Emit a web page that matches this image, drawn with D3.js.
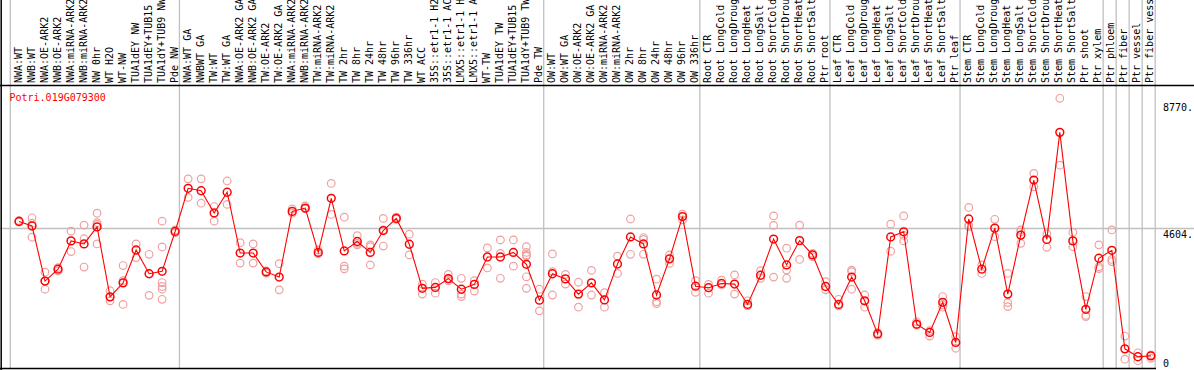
<!DOCTYPE html>
<html>
<head>
<meta charset="UTF-8">
<title>Potri.019G079300</title>
<script src="https://d3js.org/d3.v7.min.js"></script>
<style>
  body { margin: 0; background: #fff; }
  svg { display: block; }
  text { font-family: "DejaVu Sans Mono", monospace; font-size: 10px; }
</style>
</head>
<body>
<svg width="1194" height="370"></svg>
<script>
// sample names, left to right
const samples = [
  "NWA:WT", "NWB:WT", "NWA:OE-ARK2", "NWB:OE-ARK2", "NWA:miRNA-ARK2", "NWB:miRNA-ARK2",
  "NW 0hr", "WT H2O", "WT-NW", "TUA1dEY NW", "TUA1dEY+TUB15 NW", "TUA1dY+TUB9 NW", "Pde NW",
  "NWA:WT GA", "NWBWT GA", "TW:WT", "TW:WT GA", "NWA:OE-ARK2 GA", "NWB:OE-ARK2 GA",
  "TW:OE-ARK2", "TW:OE-ARK2 GA", "NWA:miRNA-ARK2 GA", "NWB:miRNA-ARK2 GA", "TW:miRNA-ARK2",
  "TW:miRNA-ARK2 GA", "TW 2hr", "TW 8hr", "TW 24hr", "TW 48hr", "TW 96hr", "TW 336hr",
  "WT ACC", "35S::etr1-1 H2O", "35S::etr1-1 ACC", "LMX5::etr1-1 H2O", "LMX5::etr1-1 ACC",
  "WT-TW", "TUA1dEY TW", "TUA1dEY+TUB15 TW", "TUA1dY+TUB9 TW", "Pde TW",
  "OW:WT", "OW:WT GA", "OW:OE-ARK2", "OW:OE-ARK2 GA", "OW:miRNA-ARK2", "OW:miRNA-ARK2 GA",
  "OW 2hr", "OW 8hr", "OW 24hr", "OW 48hr", "OW 96hr", "OW 336hr",
  "Root CTR", "Root LongCold", "Root LongDrought", "Root LongHeat", "Root LongSalt",
  "Root ShortCold", "Root ShortDrought", "Root ShortHeat", "Root ShortSalt", "Ptr root",
  "Leaf CTR", "Leaf LongCold", "Leaf LongDrought", "Leaf LongHeat", "Leaf LongSalt",
  "Leaf ShortCold", "Leaf ShortDrought", "Leaf ShortHeat", "Leaf ShortSalt", "Ptr leaf",
  "Stem CTR", "Stem LongCold", "Stem LongDrought", "Stem LongHeat", "Stem LongSalt",
  "Stem ShortCold", "Stem ShortDrought", "Stem ShortHeat", "Stem ShortSalt",
  "Ptr shoot", "Ptr xylem", "Ptr phloem", "Ptr fiber", "Ptr vessel", "Ptr fiber vessel"
];

// mean expression per sample
const means = [
  4820, 4670, 2860, 3250, 4180, 4080, 4640, 2340, 2800, 3880, 3100, 3180, 4490,
  5910, 5830, 5100, 5780, 3780, 3780, 3160, 2990, 5150, 5260, 3800, 5580, 3850,
  4160, 3800, 4520, 4920, 4070, 2620, 2650, 2940, 2590, 2750, 3650, 3650, 3800, 3410, 2230,
  3100, 2930, 2430, 2800, 2240, 3420, 4310, 4080, 2400, 3590, 4980, 2690,
  2640, 2780, 2760, 2090, 3050, 4240, 3390, 4190, 3720, 2680,
  2090, 2990, 2210, 1120, 4310, 4480, 1440, 1170, 2160, 840,
  4900, 3250, 4600, 2430, 4370, 6180, 4230, 7750, 4180, 1930, 3610,
  3870, 630, 370, 400
];

// individual replicates per sample
const reps = [
  [4850, 4800], [4940, 4760, 4300], [3150, 2860, 2590], [3300, 3190], [4500, 3830],
  [4700, 4250, 3320], [5090, 4780, 4720, 4080], [2540, 2210], [3370, 2870, 2090],
  [4080, 3630], [3740, 3100, 2390], [4830, 3980, 2810, 2680, 2590, 2260], [4540, 4450],
  [6220, 5610], [6220, 5420], [5310, 4830], [6150, 5380], [4120, 3450], [4080, 3450],
  [3190, 3120], [3430, 2570], [5230, 5090], [5330, 5230], [3880, 3750], [6070, 5050],
  [4960, 3350, 3260], [4350, 4100, 4050], [4050, 3990, 3390], [4920, 4540, 4010],
  [4960, 4890], [4400, 3720], [2760, 2430], [2810, 2460], [3080, 2920, 2870],
  [2950, 2430, 2350], [2870, 2530], [3950, 3290], [4210, 3770, 2950], [4210, 3350],
  [3990, 3800, 3720, 3680, 3000, 2620], [2590, 1880],
  [3750, 3170, 2400], [3080, 2760], [2820, 2000], [3210, 2400], [2480, 2000],
  [3680, 3110], [4900, 3740], [4290, 4230, 3740], [2920, 2180, 2120], [3720, 3440],
  [5060, 4870], [2870, 2490],
  [2750, 2460], [2890, 2730], [3060, 2430], [2210, 2040], [3200, 2950],
  [5000, 4690, 2990], [3940, 3220, 2950], [4700, 3570], [3770, 3660], [2840, 2570],
  [2260, 2040], [3220, 3170, 2590], [2400, 2000], [1160, 1070], [4730, 3840],
  [5000, 4360, 4180], [1520, 1410], [1230, 1050], [2350, 2070, 2000], [1030, 650],
  [5280, 4700, 4650], [3390, 3110], [4890, 4320], [3110, 2150, 2020], [4540, 4480, 4100],
  [6400, 5960], [4410, 3970], [8870, 6670], [4460, 3990], [2350, 1730, 1690],
  [4050, 3330, 3270],
  [4540, 3570, 3500], [1050, 290], [500, 240], [430, 320]
];

// index of the first sample in each group (last entry closes the final group)
const groupStarts = [0, 13, 41, 53, 63, 73, 84, 85, 86, 87, 88];

const yTicks = [0, 4604, 8770];
const yLabels = ["0", "4604.", "8770."];
const geneId = "Potri.019G079300";

const W = 1194, H = 370;
const svg = d3.select("svg");

const x = d3.scaleBand().domain(d3.range(samples.length)).range([10.3, 1155.2]).padding(0);
const y = d3.scaleLinear().domain([0, 9307]).range([368, 85]);
const px = i => x(i) + 8.7;
const edge = i => i < samples.length ? x(i) : x(samples.length - 1) + x.bandwidth();

// group separators
svg.append("g").selectAll("line")
  .data(groupStarts)
  .join("line")
  .attr("x1", d => edge(d)).attr("x2", d => edge(d))
  .attr("y1", 0).attr("y2", 369)
  .attr("stroke", "#c0c0c0").attr("stroke-width", 1.3);

// reference line at 4604
svg.append("line")
  .attr("x1", 0).attr("x2", W)
  .attr("y1", Math.round(y(4604)) + 0.5).attr("y2", Math.round(y(4604)) + 0.5)
  .attr("stroke", "#c0c0c0").attr("stroke-width", 1.3);

// frame
svg.append("line").attr("x1", 0).attr("x2", W).attr("y1", 85.5).attr("y2", 85.5)
  .attr("stroke", "#000").attr("stroke-width", 1.5);
svg.append("line").attr("x1", 0).attr("x2", 1156).attr("y1", 368.5).attr("y2", 368.5)
  .attr("stroke", "#000").attr("stroke-width", 1.5);
svg.append("line").attr("x1", 1.2).attr("x2", 1.2).attr("y1", 0).attr("y2", 370)
  .attr("stroke", "#000").attr("stroke-width", 1.5);

// sample labels
svg.append("g").selectAll("text")
  .data(samples)
  .join("text")
  .attr("transform", (d, i) => `translate(${x(i) + 11.2},83) rotate(-90)`)
  .attr("fill", "#000")
  .text(d => d);

// replicate points
const repPts = reps.flatMap((r, i) => r.map(v => ({ i, v })));
svg.append("g").selectAll("circle")
  .data(repPts)
  .join("circle")
  .attr("cx", d => px(d.i))
  .attr("cy", d => y(d.v))
  .attr("r", 3.8)
  .attr("fill", "none")
  .attr("stroke", "#f0a0a0")
  .attr("stroke-width", 1.2);

// mean line
svg.append("path")
  .datum(means)
  .attr("fill", "none")
  .attr("stroke", "#ff0000")
  .attr("stroke-width", 1.1)
  .attr("d", d3.line().x((d, i) => px(i)).y(d => y(d)));

// mean points
svg.append("g").selectAll("circle")
  .data(means)
  .join("circle")
  .attr("cx", (d, i) => px(i))
  .attr("cy", d => y(d))
  .attr("r", 3.9)
  .attr("fill", "none")
  .attr("stroke", "#ff0000")
  .attr("stroke-width", 1.5);

// y labels on the right
const yAxis = svg.append("g")
  .attr("transform", "translate(1160,0)")
  .call(d3.axisRight(y).tickValues(yTicks).tickSize(0).tickFormat((d, i) => yLabels[i]));
yAxis.select(".domain").remove();
yAxis.selectAll("text")
  .attr("x", 3)
  .attr("dy", d => d === 0 ? "-0.2em" : "0.9em")
  .attr("fill", "#000")
  .style("font-family", "DejaVu Sans Mono, monospace")
  .style("font-size", "10px")
  .attr("text-anchor", "start");

// gene id
svg.append("text")
  .attr("x", 9.5).attr("y", 100.5)
  .attr("fill", "#ff0000")
  .text(geneId);
</script>
</body>
</html>
